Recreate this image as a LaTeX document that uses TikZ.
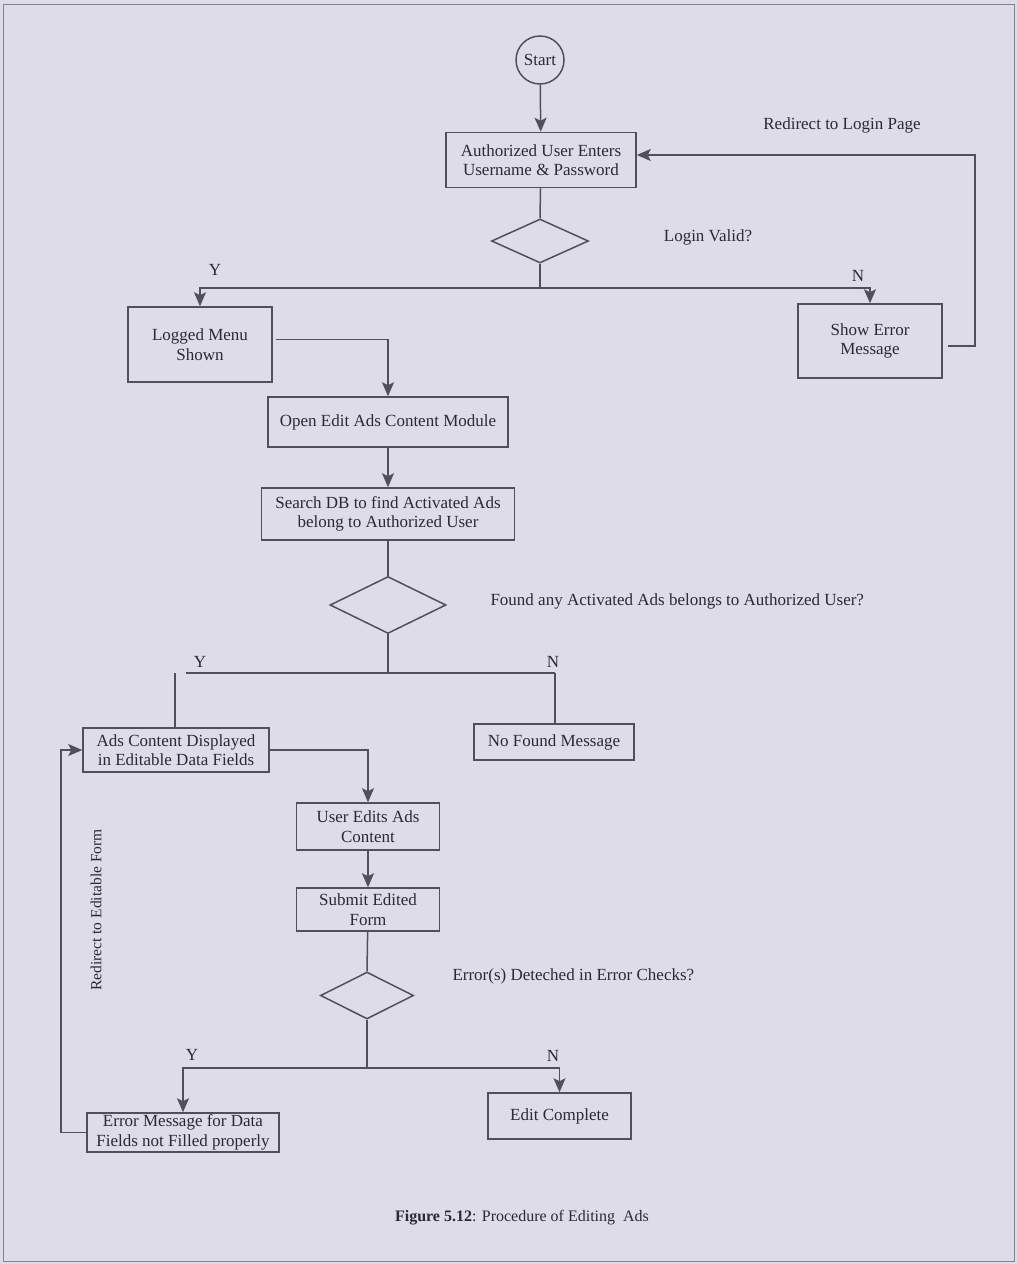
\documentclass[tikz,border=0pt]{standalone}
\usepackage{fontspec}
\setmainfont{Liberation Serif}
\usetikzlibrary{shapes.geometric,arrows.meta}
\definecolor{paper}{RGB}{221,220,232}
\definecolor{ink}{RGB}{42,42,52}
\definecolor{wire}{RGB}{80,80,92}
\begin{document}
\begin{tikzpicture}[x=1pt,y=-1pt,
  txt/.style={font=\fontsize{17}{19.5}\selectfont, text=ink, align=center},
  box/.style={txt, draw=wire, line width=1.5pt, rectangle, inner sep=0pt},
  decision/.style={draw=wire, line width=1.5pt, diamond, inner sep=0pt},
  lbl/.style={font=\fontsize{17}{19.5}\selectfont, text=ink},
  wireline/.style={draw=wire, line width=1.5pt},
  arr/.style={wireline, -{Stealth[length=14pt,width=12pt,inset=3pt]}}]

% page background and frame
\fill[paper] (0,0) rectangle (1017,1264);
\useasboundingbox (0,0) rectangle (1017,1264);
\draw[draw=wire!70, line width=1pt] (3,4) rectangle (1014,1261);

% nodes
\node[box, circle, minimum size=48pt] (start) at (540,60) {Start};
\node[box, minimum width=190pt, minimum height=55pt] (auth) at (541,160) {Authorized User Enters\\Username \& Password};
\node[decision, minimum width=97pt, minimum height=44pt] (d1) at (540,241) {};
\node[box, minimum width=144pt, minimum height=75pt] (logged) at (200,344.5) {Logged Menu\\Shown};
\node[box, minimum width=144pt, minimum height=74pt] (showerr) at (870,341) {Show Error\\Message};
\node[box, minimum width=240pt, minimum height=50pt] (open) at (388,422) {Open Edit Ads Content Module};
\node[box, minimum width=253pt, minimum height=52pt] (search) at (388,514) {Search DB to find Activated Ads\\belong to Authorized User};
\node[decision, minimum width=116pt, minimum height=57pt] (d2) at (388,605) {};
\node[box, minimum width=186pt, minimum height=44pt] (ads) at (176,750) {Ads Content Displayed\\in Editable Data Fields};
\node[box, minimum width=160pt, minimum height=36pt] (nofound) at (554,742) {No Found Message};
\node[box, minimum width=143pt, minimum height=47pt] (useredit) at (368,826.5) {User Edits Ads\\Content};
\node[box, minimum width=143pt, minimum height=43pt] (submit) at (368,909.5) {Submit Edited\\Form};
\node[decision, minimum width=93pt, minimum height=47pt] (d3) at (367,995.5) {};
\node[box, minimum width=192pt, minimum height=39pt] (errmsg) at (183,1132.5) {Error Message for Data\\Fields not Filled properly};
\node[box, minimum width=143pt, minimum height=46pt] (done) at (559.5,1116) {Edit Complete};

% branch points
\coordinate (b1) at (540,288);
\coordinate (b2) at (388,673);
\coordinate (b2l) at (186,673);
\coordinate (b2r) at (555,673);
\coordinate (b3) at (367,1068);

% labels
\node[lbl] (qlogin) at (708,237) {Login Valid?};
\node[lbl] (redir1) at (842,125) {Redirect to Login Page};
\node[lbl] (y1) at (215,270) {Y};
\node[lbl] (n1) at (858,276) {N};
\node[lbl, anchor=west] (qfound) at (487,601) {Found any Activated Ads belongs to Authorized User?};
\node[lbl] (y2) at (200,662) {Y};
\node[lbl] (n2) at (553,662) {N};
\node[lbl, anchor=west] (qerr) at (449,976) {Error(s) Deteched in Error Checks?};
\node[lbl] (y3) at (192,1055) {Y};
\node[lbl] (n3) at (553,1056) {N};
\node[font=\fontsize{15.5}{17}\selectfont, text=ink, rotate=90] (redir2) at (96,910) {Redirect to Editable Form};
\node[font=\fontsize{16}{18}\selectfont, text=ink] (cap) at (522,1218) {\textbf{Figure 5.12}: Procedure of Editing\ \ Ads};

% connectors
\draw[arr] (start) -- (auth);
\draw[wireline] (auth) -- (d1.north);
\draw[wireline] (d1.south) -- (b1);
\draw[arr] (b1) -| (logged.north);
\draw[arr] (b1) -| (showerr.north);
\draw[arr] ([xshift=5pt,yshift=-5pt]showerr.east) -- (975,346) -- (975,155) -- ([yshift=5pt]auth.east);
\draw[arr] ([xshift=3pt,yshift=5pt]logged.east) -| (open.north);
\draw[arr] (open) -- (search);
\draw[wireline] (search) -- (d2.north);
\draw[wireline] (d2.south) -- (b2);
\draw[wireline] (b2l) -- (b2r);
\draw[wireline] (175,673) -- (ads.north -| 175,0);
\draw[wireline] (b2r) -- (nofound.north -| b2r);
\draw[arr] (ads.east) -| (useredit.north);
\draw[arr] (useredit) -- (submit);
\draw[wireline] (submit) -- (d3.north);
\draw[wireline] (d3.south) -- (b3);
\draw[arr] (b3) -| (errmsg.north);
\draw[arr] (b3) -| (done.north);
\draw[arr] (errmsg.west) -- (61,1132.5) -- (61,750) -- (ads.west);

\end{tikzpicture}
\end{document}
